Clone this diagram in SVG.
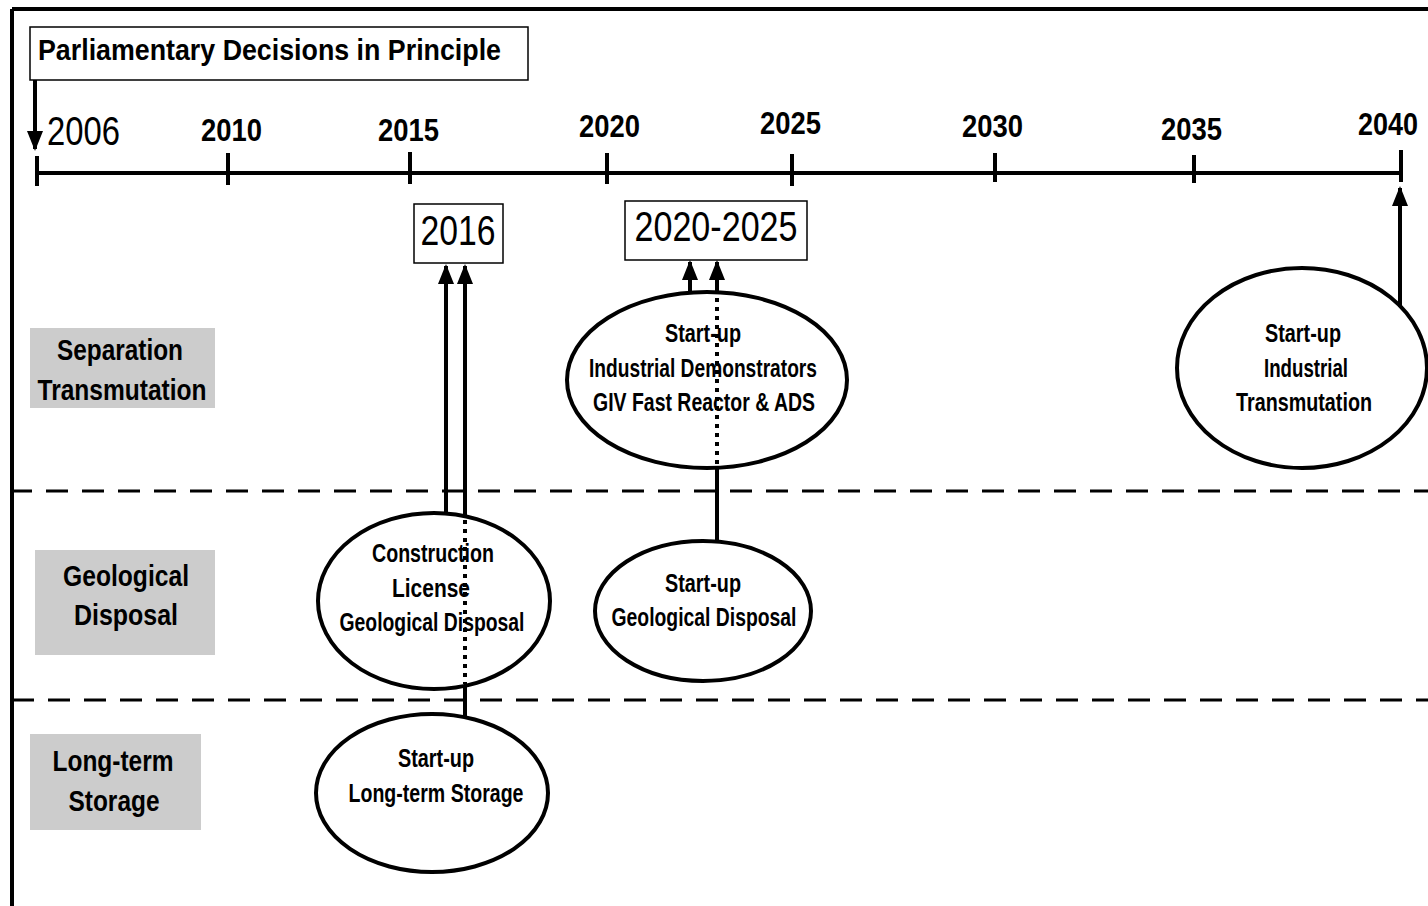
<svg xmlns="http://www.w3.org/2000/svg" width="1428" height="906" viewBox="0 0 1428 906">
<style>
.t{font-family:"Liberation Sans",Arial,sans-serif;font-weight:bold;fill:#000}
.n{font-family:"Liberation Sans",Arial,sans-serif;fill:#000}
.el{fill:#fff;stroke:#000;stroke-width:4}
.lab{fill:#cccccc}
.c{stroke:#000;stroke-width:4;fill:none}
.dot{stroke:#000;stroke-width:4;fill:none;stroke-dasharray:4 5}
.dash{stroke:#000;stroke-width:3;fill:none;stroke-dasharray:22 14}
.box{fill:#fff;stroke:#000;stroke-width:1.5}
</style>
<defs>
<marker id="ah" markerUnits="userSpaceOnUse" markerWidth="20" markerHeight="18" refX="18" refY="8" orient="auto" viewBox="0 0 20 16">
<path d="M0,0 L20,8 L0,16 Z" fill="#000"/>
</marker>
</defs>
<rect width="1428" height="906" fill="#fff"/>
<g id="frame">
<line x1="12" y1="9" x2="1428" y2="9" class="c"/>
<line x1="12" y1="9" x2="12" y2="906" class="c"/>
</g>
<g id="title">
<rect x="30" y="27" width="498" height="53" class="box"/>
<text x="38" y="60" class="t" font-size="29" textLength="463" lengthAdjust="spacingAndGlyphs">Parliamentary Decisions in Principle</text>
</g>
<g id="timeline">
<line x1="37" y1="173" x2="1402" y2="173" class="c"/>
<line x1="37" y1="156" x2="37" y2="186" class="c"/>
<line x1="228" y1="153" x2="228" y2="185" class="c"/>
<line x1="410" y1="152" x2="410" y2="184" class="c"/>
<line x1="607" y1="153" x2="607" y2="184" class="c"/>
<line x1="792" y1="154" x2="792" y2="186" class="c"/>
<line x1="995" y1="153" x2="995" y2="182" class="c"/>
<line x1="1194" y1="155" x2="1194" y2="183" class="c"/>
<line x1="1401" y1="150" x2="1401" y2="182" class="c"/>
<text x="47" y="145" class="n" font-size="40" textLength="73" lengthAdjust="spacingAndGlyphs">2006</text>
<text x="201" y="141" class="t" font-size="32" textLength="61" lengthAdjust="spacingAndGlyphs">2010</text>
<text x="378" y="141" class="t" font-size="32" textLength="61" lengthAdjust="spacingAndGlyphs">2015</text>
<text x="579" y="137" class="t" font-size="32" textLength="61" lengthAdjust="spacingAndGlyphs">2020</text>
<text x="760" y="134" class="t" font-size="32" textLength="61" lengthAdjust="spacingAndGlyphs">2025</text>
<text x="962" y="137" class="t" font-size="32" textLength="61" lengthAdjust="spacingAndGlyphs">2030</text>
<text x="1161" y="140" class="t" font-size="32" textLength="61" lengthAdjust="spacingAndGlyphs">2035</text>
<text x="1358" y="135" class="t" font-size="32" textLength="60" lengthAdjust="spacingAndGlyphs">2040</text>
</g>
<g id="dividers">
<line x1="10" y1="491" x2="1428" y2="491" class="dash"/>
<line x1="12" y1="700" x2="1428" y2="700" class="dash"/>
</g>
<g id="label-separation">
<rect x="30" y="328" width="185" height="80" class="lab"/>
<text x="120" y="360" class="t" font-size="29" text-anchor="middle" textLength="126" lengthAdjust="spacingAndGlyphs">Separation</text>
<text x="122" y="400" class="t" font-size="29" text-anchor="middle" textLength="169" lengthAdjust="spacingAndGlyphs">Transmutation</text>
</g>
<g id="label-geological">
<rect x="35" y="550" width="180" height="105" class="lab"/>
<text x="126" y="586" class="t" font-size="29" text-anchor="middle" textLength="126" lengthAdjust="spacingAndGlyphs">Geological</text>
<text x="126" y="625" class="t" font-size="29" text-anchor="middle" textLength="104" lengthAdjust="spacingAndGlyphs">Disposal</text>
</g>
<g id="label-storage">
<rect x="30" y="734" width="171" height="96" class="lab"/>
<text x="113" y="771" class="t" font-size="29" text-anchor="middle" textLength="121" lengthAdjust="spacingAndGlyphs">Long-term</text>
<text x="114" y="811" class="t" font-size="29" text-anchor="middle" textLength="91" lengthAdjust="spacingAndGlyphs">Storage</text>
</g>
<g id="box-2016">
<rect x="414" y="204" width="89" height="59" class="box"/>
<text x="458" y="245" class="n" font-size="42" text-anchor="middle" textLength="75" lengthAdjust="spacingAndGlyphs">2016</text>
</g>
<g id="box-2020-2025">
<rect x="625" y="201" width="182" height="59" class="box"/>
<text x="716" y="241" class="n" font-size="42" text-anchor="middle" textLength="163" lengthAdjust="spacingAndGlyphs">2020-2025</text>
</g>
<g id="node-demonstrators">
<ellipse cx="707" cy="380" rx="140" ry="88" class="el"/>
<text x="703" y="342" class="t" font-size="26" text-anchor="middle" textLength="76" lengthAdjust="spacingAndGlyphs">Start-up</text>
<text x="703" y="377" class="t" font-size="26" text-anchor="middle" textLength="228" lengthAdjust="spacingAndGlyphs">Industrial Demonstrators</text>
<text x="704" y="411" class="t" font-size="26" text-anchor="middle" textLength="222" lengthAdjust="spacingAndGlyphs">GIV Fast Reactor &amp; ADS</text>
</g>
<g id="node-transmutation">
<ellipse cx="1302" cy="368" rx="125" ry="100" class="el"/>
<text x="1303" y="342" class="t" font-size="26" text-anchor="middle" textLength="76" lengthAdjust="spacingAndGlyphs">Start-up</text>
<text x="1306" y="377" class="t" font-size="26" text-anchor="middle" textLength="84" lengthAdjust="spacingAndGlyphs">Industrial</text>
<text x="1304" y="411" class="t" font-size="26" text-anchor="middle" textLength="136" lengthAdjust="spacingAndGlyphs">Transmutation</text>
</g>
<g id="node-construction">
<ellipse cx="434" cy="601" rx="116" ry="88" class="el"/>
<text x="433" y="562" class="t" font-size="26" text-anchor="middle" textLength="122" lengthAdjust="spacingAndGlyphs">Construction</text>
<text x="431" y="597" class="t" font-size="26" text-anchor="middle" textLength="78" lengthAdjust="spacingAndGlyphs">License</text>
<text x="432" y="631" class="t" font-size="26" text-anchor="middle" textLength="185" lengthAdjust="spacingAndGlyphs">Geological Disposal</text>
</g>
<g id="node-geo-startup">
<ellipse cx="703" cy="611" rx="108" ry="70" class="el"/>
<text x="703" y="592" class="t" font-size="26" text-anchor="middle" textLength="76" lengthAdjust="spacingAndGlyphs">Start-up</text>
<text x="704" y="626" class="t" font-size="26" text-anchor="middle" textLength="185" lengthAdjust="spacingAndGlyphs">Geological Disposal</text>
</g>
<g id="node-storage">
<ellipse cx="432" cy="793" rx="116" ry="79" class="el"/>
<text x="436" y="767" class="t" font-size="26" text-anchor="middle" textLength="76" lengthAdjust="spacingAndGlyphs">Start-up</text>
<text x="436" y="802" class="t" font-size="26" text-anchor="middle" textLength="175" lengthAdjust="spacingAndGlyphs">Long-term Storage</text>
</g>
<g id="connectors">
<line x1="35" y1="80" x2="35" y2="149" class="c" marker-end="url(#ah)"/>
<line x1="446" y1="514" x2="446" y2="266" class="c" marker-end="url(#ah)"/>
<line x1="465" y1="516" x2="465" y2="266" class="c" marker-end="url(#ah)"/>
<line x1="465" y1="520" x2="465" y2="684" class="dot"/>
<line x1="465" y1="686" x2="465" y2="718" class="c"/>
<line x1="690" y1="294" x2="690" y2="262" class="c" marker-end="url(#ah)"/>
<line x1="717" y1="293" x2="717" y2="262" class="c" marker-end="url(#ah)"/>
<line x1="717" y1="298" x2="717" y2="464" class="dot"/>
<line x1="717" y1="467" x2="717" y2="542" class="c"/>
<line x1="1400" y1="307" x2="1400" y2="188" class="c" marker-end="url(#ah)"/>
</g>
</svg>
